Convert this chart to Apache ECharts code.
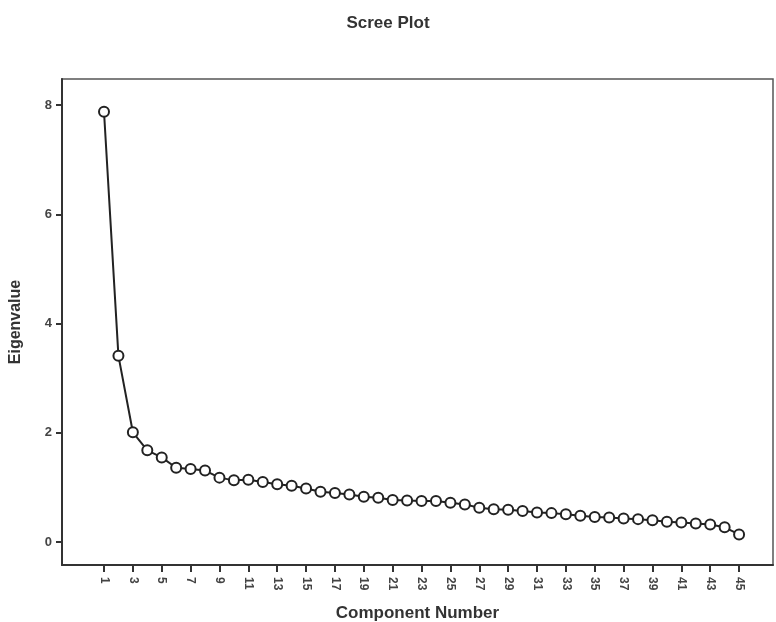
<!DOCTYPE html>
<html>
<head>
<meta charset="utf-8">
<script src="https://cdn.jsdelivr.net/npm/echarts@6/dist/echarts.min.js"></script>
<style>
  html, body { margin: 0; padding: 0; background: #fff; }
  #chart { width: 776px; height: 622px; }
</style>
</head>
<body>
<div id="chart"></div>
<script>
// 碎石图:45 个成分的特征值
const components = [
  1, 2, 3, 4, 5, 6, 7, 8, 9, 10, 11, 12, 13, 14, 15,
  16, 17, 18, 19, 20, 21, 22, 23, 24, 25, 26, 27, 28, 29, 30,
  31, 32, 33, 34, 35, 36, 37, 38, 39, 40, 41, 42, 43, 44, 45,
]
const eigenvalues = [
  7.88, 3.41, 2.01, 1.68, 1.55, 1.36, 1.34, 1.31, 1.18, 1.13, 1.14, 1.10, 1.06, 1.03, 0.98,
  0.92, 0.90, 0.87, 0.83, 0.81, 0.77, 0.76, 0.75, 0.75, 0.72, 0.69, 0.63, 0.60, 0.59, 0.57,
  0.54, 0.53, 0.51, 0.48, 0.46, 0.45, 0.43, 0.42, 0.40, 0.37, 0.36, 0.34, 0.32, 0.27, 0.14,
]
const xTicks = [1, 3, 5, 7, 9, 11, 13, 15, 17, 19, 21, 23, 25, 27, 29, 31, 33, 35, 37, 39, 41, 43, 45]
const yTicks = [0, 2, 4, 6, 8]

const font = 'Liberation Sans, Arial, sans-serif'
const chart = echarts.init(document.getElementById('chart'))
chart.setOption({
  animation: false,
  title: {
    text: 'Scree Plot', left: 'center', top: 10,
    textStyle: { fontFamily: font, fontSize: 17, fontWeight: 'bold', color: '#333' },
  },
  grid: {
    left: 62, right: 3, top: 79, bottom: 57,
    outerBoundsMode: 'none',
    show: true, borderColor: '#555', borderWidth: 1.5, backgroundColor: '#fff',
  },
  xAxis: {
    type: 'value', min: -1.91, max: 47.35,
    name: 'Component Number', nameLocation: 'middle', nameGap: 40,
    nameTextStyle: { fontFamily: font, fontSize: 17, fontWeight: 'bold', color: '#333' },
    axisLine: { show: true, onZero: false, lineStyle: { color: '#333', width: 2 } },
    axisTick: { show: true, customValues: xTicks, length: 7, lineStyle: { color: '#333', width: 2 } },
    axisLabel: {
      customValues: xTicks, rotate: -90, margin: 12,
      fontFamily: font, fontSize: 12, fontWeight: 'bold', color: '#444',
    },
    splitLine: { show: false },
  },
  yAxis: {
    type: 'value', min: -0.42, max: 8.48,
    name: 'Eigenvalue', nameLocation: 'middle', nameGap: 38, nameRotate: 90,
    nameTextStyle: { fontFamily: font, fontSize: 16, fontWeight: 'bold', color: '#333' },
    axisLine: { show: true, onZero: false, lineStyle: { color: '#333', width: 2 } },
    axisTick: { show: true, customValues: yTicks, length: 6, lineStyle: { color: '#333', width: 2 } },
    axisLabel: {
      customValues: yTicks, margin: 10,
      fontFamily: font, fontSize: 13, fontWeight: 'bold', color: '#444',
    },
    splitLine: { show: false },
  },
  series: [{
    type: 'line',
    data: components.map((c, i) => [c, eigenvalues[i]]),
    symbol: 'circle', symbolSize: 10,
    lineStyle: { color: '#222', width: 2 },
    itemStyle: { color: '#fff', borderColor: '#222', borderWidth: 2 },
  }],
})
</script>
</body>
</html>
